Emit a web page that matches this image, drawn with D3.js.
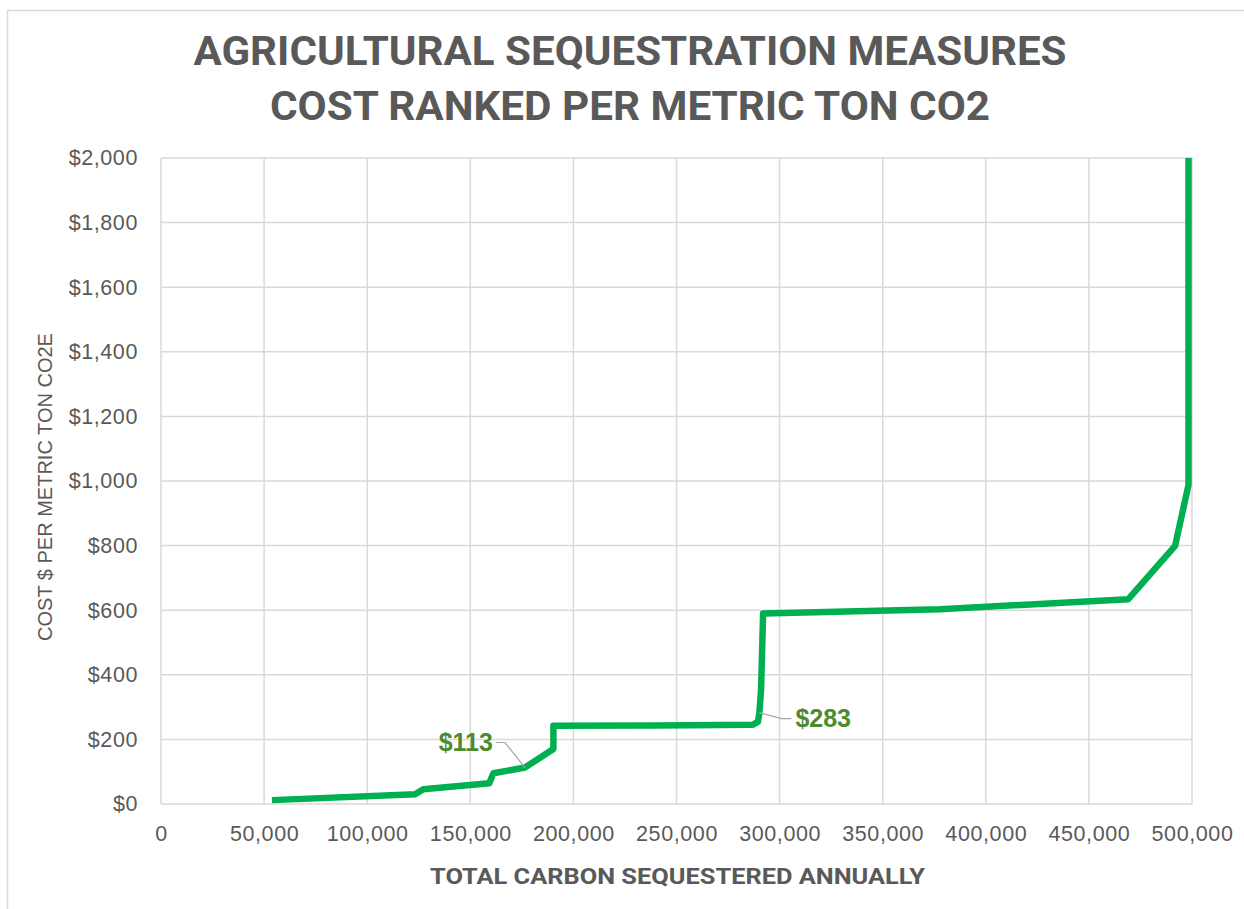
<!DOCTYPE html>
<html>
<head>
<meta charset="utf-8">
<script src="https://cdn.jsdelivr.net/npm/d3@7"></script>
<style>
  body { margin: 0; background: #fff; }
  text { font-family: "Liberation Sans", Arial, sans-serif; }
</style>
</head>
<body>
<div id="chart"></div>
<script>
// data
const tonsSequestered = [53800, 123200, 127200, 159200, 161200, 176500, 190300, 190300, 240000, 287000, 289500, 290200, 291000, 292000, 377800, 469100, 491800, 498300, 498300];
const costPerTon      = [12,    30,     46,     64,     95,     113,    170,    242,    243,    245,    255,    283,    353,    590,    603,    634,    799,    988,    2000];
const xTicks = [0, 50000, 100000, 150000, 200000, 250000, 300000, 350000, 400000, 450000, 500000];
const yTicks = [0, 200, 400, 600, 800, 1000, 1200, 1400, 1600, 1800, 2000];
const titleLines = ["AGRICULTURAL SEQUESTRATION MEASURES", "COST RANKED PER METRIC TON CO2"];
const callouts = [ { idx: 5, label: "$113" }, { idx: 11, label: "$283" } ];

const config = { width: 1244, height: 909, left: 161, right: 52, top: 158, bottom: 105 };
const plotW = config.width - config.left - config.right;
const plotH = config.height - config.top - config.bottom;

const svg = d3.select("#chart").append("svg")
    .attr("width", config.width)
    .attr("height", config.height);

// chart border
svg.append("rect")
    .attr("x", 7.5).attr("y", 10.5)
    .attr("width", 1260).attr("height", 920)
    .attr("fill", "none").attr("stroke", "#d9d9d9").attr("stroke-width", 1.5);

const g = svg.append("g").attr("transform", `translate(${config.left},${config.top})`);

const xScale = d3.scaleLinear().domain([0, 500000]).range([0, plotW]);
const yScale = d3.scaleLinear().domain([0, 2000]).range([plotH, 0]);

// gridlines
g.append("g")
    .selectAll("line.v").data(xTicks).join("line")
    .attr("x1", d => xScale(d)).attr("x2", d => xScale(d))
    .attr("y1", 0).attr("y2", plotH)
    .attr("stroke", "#d9d9d9").attr("stroke-width", 1.5);
g.append("g")
    .selectAll("line.h").data(yTicks).join("line")
    .attr("x1", 0).attr("x2", plotW)
    .attr("y1", d => yScale(d)).attr("y2", d => yScale(d))
    .attr("stroke", "#d9d9d9").attr("stroke-width", 1.5);

// axes, only labels shown
const xAxis = d3.axisBottom(xScale).tickValues(xTicks).tickSize(0).tickPadding(22)
    .tickFormat(d3.format(","));
const yAxis = d3.axisLeft(yScale).tickValues(yTicks).tickSize(0).tickPadding(23)
    .tickFormat(d => "$" + d3.format(",")(d));

const gx = g.append("g").attr("transform", `translate(0,${plotH})`).call(xAxis);
const gy = g.append("g").call(yAxis);
[gx, gy].forEach(ax => {
    ax.select(".domain").remove();
    ax.selectAll("text")
        .attr("fill", "#595959")
        .style("font-size", "21.5px")
        .style("letter-spacing", "0.6px")
        .style("font-family", "'Liberation Sans', Arial, sans-serif");
});

// the cost curve
const points = tonsSequestered.map((t, i) => [t, costPerTon[i]]);
const line = d3.line().x(d => xScale(d[0])).y(d => yScale(d[1]));

g.append("path")
    .datum(points)
    .attr("d", line)
    .attr("fill", "none")
    .attr("stroke", "#00b050")
    .attr("stroke-width", 6.5)
    .attr("stroke-linejoin", "round")
    .attr("stroke-linecap", "butt");

// callouts with leader lines
const calloutPos = {
    "$113": { anchor: "end", bend: [-20, -25] },
    "$283": { anchor: "start", bend: [32, 6] }
};
callouts.forEach(c => {
    const px = xScale(tonsSequestered[c.idx]);
    const py = yScale(costPerTon[c.idx]);
    const p = calloutPos[c.label];
    g.append("polyline")
        .attr("points", p.anchor === "end"
            ? `${px},${py} ${px + p.bend[0]},${py + p.bend[1]} ${px + p.bend[0] - 9},${py + p.bend[1]}`
            : `${px},${py} ${px + p.bend[0] - 10},${py + p.bend[1]} ${px + p.bend[0]},${py + p.bend[1]}`)
        .attr("fill", "none").attr("stroke", "#a6a6a6").attr("stroke-width", 1.2);
    g.append("text")
        .attr("x", p.anchor === "end" ? px + p.bend[0] - 12 : px + p.bend[0] + 4)
        .attr("y", py + p.bend[1])
        .attr("dy", "0.35em")
        .attr("text-anchor", p.anchor)
        .attr("fill", "#4e8a2e")
        .style("font-size", "25px")
        .style("font-weight", "bold")
        .text(c.label);
});

// title
const titleWidths = [873, 720];
svg.append("g").selectAll("text").data(titleLines).join("text")
    .attr("x", (d, i) => 630 - titleWidths[i] / 2)
    .attr("y", (d, i) => 65 + i * 55)
    .attr("textLength", (d, i) => titleWidths[i])
    .attr("lengthAdjust", "spacingAndGlyphs")
    .attr("fill", "#595959")
    .style("font-family", "Roboto, 'Liberation Sans', sans-serif")
    .style("font-size", "40px")
    .style("font-weight", "bold")
    .text(d => d);

// axis titles
svg.append("text")
    .attr("x", 430).attr("y", 884)
    .attr("textLength", 495).attr("lengthAdjust", "spacingAndGlyphs")
    .attr("fill", "#595959")
    .style("font-family", "Roboto, 'Liberation Sans', sans-serif")
    .style("font-size", "22px").style("font-weight", "bold")
    .text("TOTAL CARBON SEQUESTERED ANNUALLY");

svg.append("text")
    .attr("transform", "translate(52,487) rotate(-90)")
    .attr("text-anchor", "middle")
    .attr("fill", "#595959")
    .style("font-size", "20px")
    .text("COST $ PER METRIC TON CO2E");
</script>
</body>
</html>
